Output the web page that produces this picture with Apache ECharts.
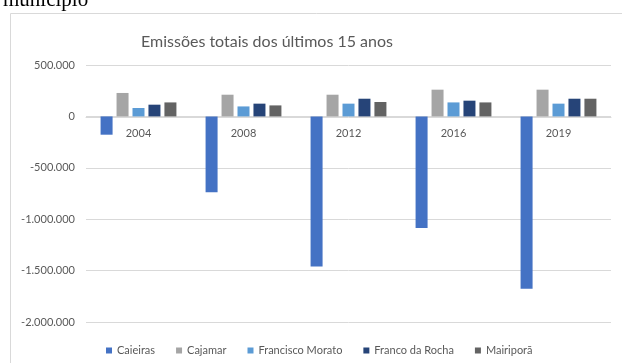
<!DOCTYPE html>
<html><head><meta charset="utf-8">
<script src="https://cdn.jsdelivr.net/npm/echarts@6/dist/echarts.min.js"></script>
<style>html,body{margin:0;padding:0;background:#fff}#c{width:622px;height:363px}</style>
</head><body><div id="c"></div>
<script>
const years = ['2004','2008','2012','2016','2019'];
const caieiras = [-178000, -737000, -1459000, -1086000, -1676000];
const cajamar = [228000, 211000, 211000, 260000, 260000];
const franciscoMorato = [82000, 97000, 124000, 136000, 124000];
const francoDaRocha = [114000, 124000, 172000, 153000, 172000];
const mairipora = [136000, 107000, 140000, 136000, 172000];
const seriesNames = ['Caieiras','Cajamar','Francisco Morato','Franco da Rocha','Mairiporã'];
const colors = ['#4472C4','#A5A5A5','#5B9BD5','#264478','#636363'];
const dataSets = [caieiras, cajamar, franciscoMorato, francoDaRocha, mairipora];

function fmt(v){
  const s = String(Math.abs(v)).replace(/\B(?=(\d{3})+(?!\d))/g,'.');
  return (v<0?'-':'') + s;
}
const font = 'Lato, "Open Sans", sans-serif';
const chart = echarts.init(document.getElementById('c'));
chart.setOption({
  animation:false,
  color: colors,
  graphic:[
    {type:'rect', shape:{x:10.5,y:13.5,width:620,height:360}, style:{fill:'none',stroke:'#d9d9d9',lineWidth:1}, silent:true},
    {type:'text', left:3, top:-10, style:{text:'município', font:'21px "Liberation Serif", serif', fill:'#000'}}
  ],
  title:{text:'Emissões totais dos últimos 15 anos', left:262, textAlign:'center', top:29,
    textStyle:{fontFamily:font, fontSize:16, fontWeight:'normal', color:'#595959'}},
  legend:{bottom:2, left:101, itemWidth:6, itemHeight:6, itemGap:21, icon:'rect',
    textStyle:{fontFamily:font, fontSize:11, color:'#595959'}},
  grid:{left:86, right:11, top:65, bottom:41, containLabel:false},
  xAxis:{type:'category', data:years, offset:-205,
    axisLine:{onZero:false, lineStyle:{color:'#d9d9d9'}}, axisTick:{show:false},
    axisLabel:{color:'#595959', fontFamily:font, fontSize:11, margin:11}},
  yAxis:{type:'value', min:-2000000, max:500000, interval:500000,
    axisLine:{show:false}, axisTick:{show:false},
    splitLine:{lineStyle:{color:'#d9d9d9'}},
    axisLabel:{color:'#595959', fontFamily:font, fontSize:11, margin:11, formatter:fmt}},
  series: dataSets.map((d,i)=>({name:seriesNames[i], type:'bar', data:d, barWidth:12, barGap:'33%', barCategoryGap:'26%'}))
});
</script></body></html>
